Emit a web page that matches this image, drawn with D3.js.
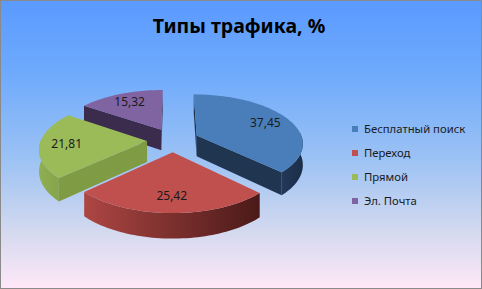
<!DOCTYPE html>
<html>
<head>
<meta charset="utf-8">
<script src="https://cdn.jsdelivr.net/npm/d3@7"></script>
<style>
body { margin: 0; }
svg { display: block; font-family: "Noto Sans", sans-serif; }
</style>
</head>
<body>
<script>
// TRAFFIC TYPES - 3D EXPLODED PIE

// DATA
var categories = ["Бесплатный поиск", "Переход", "Прямой", "Эл. Почта"];
var values = [37.45, 25.42, 21.81, 15.32];
var title = "Типы трафика, %";

// COLOURS (top face, curved wall left->right, radial wall)
var topColors = ["#4a7ebb", "#c0504d", "#9bbb59", "#8064a2"];
var wallColors = [["#23395a", "#1b2e47"], ["#ad4643", "#4a1a18"], ["#90af51", "#86a44b"], ["#3e2f52", "#35284a"]];
var radialColors = ["#1f3550", "#5a201e", "#7f9c45", "#3b2c4d"];

// SIZING
var width = 482;
var height = 289;
var cx = 173, cy = 140;      // centre of the pie on screen
var R = 106;                 // radius in the pie plane
var tilt = 0.455;            // vertical squash
var persp = 741;             // perspective distance
var depth = 21;              // thickness of the pie
var explode = 0.245;         // explosion, fraction of radius
var labelPos = 0.75;         // label position, fraction of radius

var svg = d3.select("body").append("svg")
	.attr("width", width)
	.attr("height", height);

var defs = svg.append("defs");

// BACKGROUND
var bg = defs.append("linearGradient")
	.attr("id", "bg")
	.attr("x1", 0).attr("y1", 0).attr("x2", 0).attr("y2", 1);
[[0, "#5a9aff"], [0.25, "#6eaafc"], [0.55, "#9cc2f4"], [0.8, "#d3d9ef"], [1, "#ffe8f8"]].forEach(function(s) {
	bg.append("stop").attr("offset", s[0]).attr("stop-color", s[1]);
});

svg.append("rect")
	.attr("x", 0.5).attr("y", 0.5)
	.attr("width", width - 1).attr("height", height - 1)
	.style("fill", "url(#bg)")
	.style("stroke", "#8a8a8a");

// TITLE
svg.append("text")
	.attr("x", 239)
	.attr("y", 33)
	.attr("text-anchor", "middle")
	.style("font-size", "19.5px")
	.style("font-weight", "bold")
	.style("fill", "#000")
	.text(title);

// SCALES
var rScale = d3.scaleLinear().domain([0, 1]).range([0, R]);
var pie = d3.pie().sort(null).value(function(d) { return d; });
var arcs = pie(values);
var fmt = d3.formatLocale({ decimal: ",", thousands: " ", grouping: [3], currency: ["", ""] }).format(".2f");

// projection of a point in the pie plane (u right, v toward viewer, h down)
function proj(u, v, h) {
	var k = 1 / (1 - v / persp);
	return [cx + u * k, cy + (v * tilt + h) * k];
}

function onRim(a, frac, off, h) {
	return proj(off[0] + rScale(frac) * Math.sin(a), off[1] - rScale(frac) * Math.cos(a), h);
}

function rimPoints(a0, a1, off, h) {
	var n = Math.max(2, Math.ceil(Math.abs(a1 - a0) / 0.03));
	var pts = [];
	for (var i = 0; i <= n; i++) {
		pts.push(onRim(a0 + (a1 - a0) * i / n, 1, off, h));
	}
	return pts;
}

function area(p) {
	var s = 0;
	for (var i = 0; i < p.length; i++) {
		var a = p[i], b = p[(i + 1) % p.length];
		s += a[0] * b[1] - b[0] * a[1];
	}
	return s;
}

var line = d3.line().curve(d3.curveLinearClosed);

var slices = arcs.map(function(d, i) {
	var mid = (d.startAngle + d.endAngle) / 2;
	var off = [rScale(explode) * Math.sin(mid), -rScale(explode) * Math.cos(mid)];
	return { d: d, i: i, mid: mid, off: off };
});

// back slices first
slices.sort(function(a, b) { return a.off[1] - b.off[1]; });

slices.forEach(function(s) {
	var d = s.d, off = s.off, i = s.i;
	var g = svg.append("g").attr("class", "slice");
	var apexTop = proj(off[0], off[1], 0);
	var apexBot = proj(off[0], off[1], depth);

	// curved outer wall, front half only
	var a0 = Math.max(d.startAngle, Math.PI / 2 - 0.06);
	var a1 = Math.min(d.endAngle, 3 * Math.PI / 2 + 0.06);
	if (a0 < a1) {
		var gid = "wall" + i;
		var wg = defs.append("linearGradient").attr("id", gid);
		wg.append("stop").attr("offset", 0).attr("stop-color", wallColors[i][0]);
		wg.append("stop").attr("offset", 1).attr("stop-color", wallColors[i][1]);
		var wall = rimPoints(a0, a1, off, 0).concat(rimPoints(a1, a0, off, depth));
		g.append("path")
			.attr("d", line(wall))
			.style("fill", "url(#" + gid + ")");
	}

	// radial walls
	[d.startAngle, d.endAngle].forEach(function(a, j) {
		var quad = [apexTop, onRim(a, 1, off, 0), onRim(a, 1, off, depth), apexBot];
		var ar = area(quad);
		var visible = (j === 0) ? ar < 0 : ar > 0;
		if (visible) {
			g.append("path")
				.attr("d", line(quad))
				.style("fill", radialColors[i]);
		}
	});

	// top face
	var top = [apexTop].concat(rimPoints(d.startAngle, d.endAngle, off, 0));
	g.append("path")
		.attr("d", line(top))
		.style("fill", topColors[i]);
});

// DATA LABELS
slices.forEach(function(s) {
	var p = proj(s.off[0] + rScale(labelPos) * Math.sin(s.mid), s.off[1] - rScale(labelPos) * Math.cos(s.mid), 0);
	svg.append("text")
		.attr("x", p[0])
		.attr("y", p[1])
		.attr("dy", "0.35em")
		.attr("text-anchor", "middle")
		.style("font-size", "12px")
		.style("fill", "#1a1a1a")
		.text(fmt(s.d.data));
});

// LEGEND
var legend = svg.append("g")
	.attr("transform", "translate(352,129)");

var item = legend.selectAll("g")
	.data(categories)
	.enter()
	.append("g")
	.attr("transform", function(d, i) { return "translate(0," + (i * 24) + ")"; });

item.append("rect")
	.attr("x", 0).attr("y", -3)
	.attr("width", 6).attr("height", 6)
	.style("fill", function(d, i) { return topColors[i]; });

item.append("text")
	.attr("x", 12)
	.attr("dy", "0.35em")
	.style("font-size", "11.3px")
	.style("fill", "#1a1a1a")
	.text(function(d) { return d; });
</script>
</body>
</html>
